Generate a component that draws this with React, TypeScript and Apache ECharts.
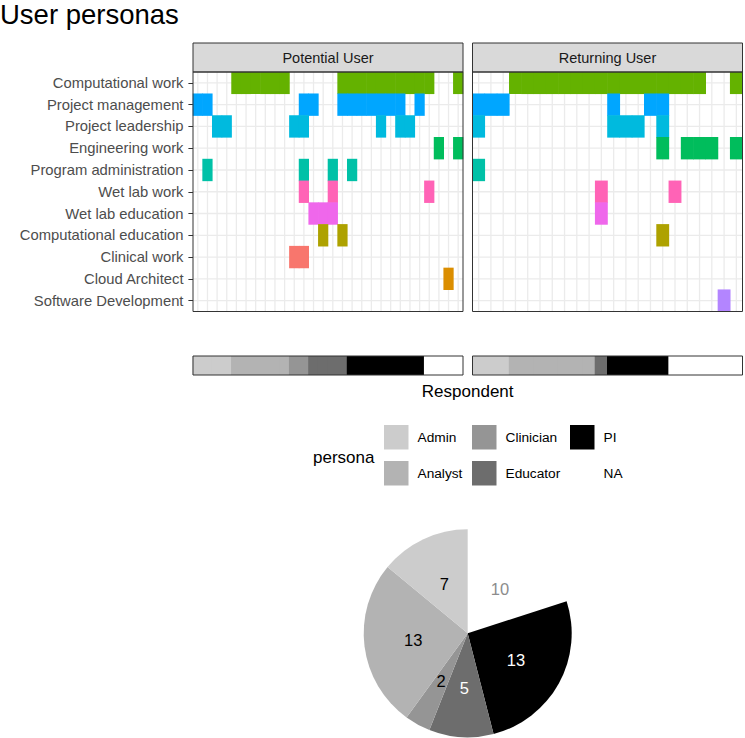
import React, { useEffect, useRef } from "react";
import * as echarts from "echarts";

const FONT = '"Liberation Sans", Arial, Helvetica, sans-serif';

// Role categories (top to bottom) and their hue colours
const roles = [
  "Computational work",
  "Project management",
  "Project leadership",
  "Engineering work",
  "Program administration",
  "Wet lab work",
  "Wet lab education",
  "Computational education",
  "Clinical work",
  "Cloud Architect",
  "Software Development",
];
const roleColors = [
  "#64B200", "#00A6FF", "#00BADE", "#00BD5C", "#00C1A7", "#FF63B6",
  "#EF67EB", "#AEA200", "#F8766D", "#DB8E00", "#B385FF",
];

// Persona of each respondent, in column order
const potentialPersona = [
  "Admin", "Admin", "Admin", "Admin",
  "Analyst", "Analyst", "Analyst", "Analyst", "Analyst", "Analyst",
  "Clinician", "Clinician",
  "Educator", "Educator", "Educator", "Educator",
  "PI", "PI", "PI", "PI", "PI", "PI", "PI", "PI",
  "NA", "NA", "NA", "NA",
];
const returningPersona = [
  "Admin", "Admin", "Admin",
  "Analyst", "Analyst", "Analyst", "Analyst", "Analyst", "Analyst", "Analyst",
  "Educator",
  "PI", "PI", "PI", "PI", "PI",
  "NA", "NA", "NA", "NA", "NA", "NA",
];

// [respondent column, role] tiles
const potentialTiles: [number, string][] = [
  [4, "Computational work"], [5, "Computational work"], [6, "Computational work"],
  [7, "Computational work"], [8, "Computational work"], [9, "Computational work"],
  [15, "Computational work"], [16, "Computational work"], [17, "Computational work"],
  [18, "Computational work"], [19, "Computational work"], [20, "Computational work"],
  [21, "Computational work"], [22, "Computational work"], [23, "Computational work"],
  [24, "Computational work"], [27, "Computational work"],
  [0, "Project management"], [1, "Project management"], [11, "Project management"],
  [12, "Project management"], [15, "Project management"], [16, "Project management"],
  [17, "Project management"], [18, "Project management"], [19, "Project management"],
  [20, "Project management"], [21, "Project management"], [23, "Project management"],
  [2, "Project leadership"], [3, "Project leadership"], [10, "Project leadership"],
  [11, "Project leadership"], [19, "Project leadership"], [21, "Project leadership"],
  [22, "Project leadership"],
  [25, "Engineering work"], [27, "Engineering work"],
  [1, "Program administration"], [11, "Program administration"],
  [14, "Program administration"], [16, "Program administration"],
  [11, "Wet lab work"], [14, "Wet lab work"], [24, "Wet lab work"],
  [12, "Wet lab education"], [13, "Wet lab education"], [14, "Wet lab education"],
  [13, "Computational education"], [15, "Computational education"],
  [10, "Clinical work"], [11, "Clinical work"],
  [26, "Cloud Architect"],
];
const returningTiles: [number, string][] = [
  [3, "Computational work"], [4, "Computational work"], [5, "Computational work"],
  [6, "Computational work"], [7, "Computational work"], [8, "Computational work"],
  [9, "Computational work"], [10, "Computational work"], [11, "Computational work"],
  [12, "Computational work"], [13, "Computational work"], [14, "Computational work"],
  [15, "Computational work"], [16, "Computational work"], [17, "Computational work"],
  [18, "Computational work"], [21, "Computational work"],
  [0, "Project management"], [1, "Project management"], [2, "Project management"],
  [11, "Project management"], [14, "Project management"], [15, "Project management"],
  [0, "Project leadership"], [11, "Project leadership"], [12, "Project leadership"],
  [13, "Project leadership"], [15, "Project leadership"],
  [15, "Engineering work"], [17, "Engineering work"], [18, "Engineering work"],
  [19, "Engineering work"], [21, "Engineering work"],
  [0, "Program administration"],
  [10, "Wet lab work"], [16, "Wet lab work"],
  [10, "Wet lab education"],
  [15, "Computational education"],
  [20, "Software Development"],
];

// Personas, grey fills and pie counts
const personas = ["Admin", "Analyst", "Clinician", "Educator", "PI", "NA"];
const personaColors = ["#CCCCCC", "#B3B3B3", "#959595", "#6D6D6D", "#000000", "#FFFFFF"];
const personaCounts = [7, 13, 2, 5, 13, 10];
const pieOrder = ["NA", "PI", "Educator", "Clinician", "Analyst", "Admin"];
const pieLabelColors: Record<string, string> = {
  NA: "#8C8C8C", PI: "#FFFFFF", Educator: "#FFFFFF", Clinician: "#000000",
  Analyst: "#000000", Admin: "#000000",
};

const PANELS = [
  { x: 193, label: "Potential User", persona: potentialPersona, tiles: potentialTiles },
  { x: 472.5, label: "Returning User", persona: returningPersona, tiles: returningTiles },
];
const PW = 270;
const PT = 72;
const PH = 239.5;
const BT = 356;
const BH = 19;

export default function App() {
  const ref = useRef<HTMLDivElement>(null);
  useEffect(() => {
    if (!ref.current) return;
    const chart = echarts.init(ref.current, undefined, { renderer: "svg" });

    const grids: any[] = [];
    const xAxes: any[] = [];
    const yAxes: any[] = [];
    const series: any[] = [];
    const graphic: any[] = [];

    PANELS.forEach((p, k) => {
      const ids = p.persona.map((_, i) => `${k}-${i}`);
      grids.push({ left: p.x, top: PT, width: PW, height: PH });
      grids.push({ left: p.x, top: BT, width: PW, height: BH });
      const gHeat = k * 2;
      const gBar = k * 2 + 1;
      const hidden = {
        axisLine: { show: false }, axisTick: { show: false },
        axisLabel: { show: false }, splitLine: { show: false },
      };
      xAxes.push({ type: "category", gridIndex: gHeat, data: ids, boundaryGap: true, ...hidden });
      xAxes.push({ type: "category", gridIndex: gBar, data: ids, boundaryGap: true, ...hidden });
      yAxes.push(
        k === 0
          ? {
              type: "category", gridIndex: gHeat, data: roles, inverse: true,
              axisLine: { show: false },
              axisTick: { show: true, alignWithLabel: true, length: 4.6, lineStyle: { color: "#333333", width: 1 } },
              axisLabel: { show: true, interval: 0, color: "#4D4D4D", fontSize: 14.8, margin: 9.5, fontFamily: FONT },
              splitLine: { show: false },
            }
          : { type: "category", gridIndex: gHeat, data: roles, inverse: true, ...hidden }
      );
      yAxes.push({ type: "category", gridIndex: gBar, data: ["persona"], ...hidden });
      const xHeat = xAxes.length - 2;
      const xBar = xAxes.length - 1;
      const yHeat = yAxes.length - 2;
      const yBar = yAxes.length - 1;

      // vertical grid lines at respondent centres
      series.push({
        type: "custom", xAxisIndex: xHeat, yAxisIndex: yHeat, z: 1, silent: true,
        data: p.persona.map((_, i) => [i, 0]),
        renderItem: (params: any, api: any) => {
          const pt = api.coord([api.value(0), 0]);
          const cs = params.coordSys;
          return {
            type: "line",
            shape: { x1: pt[0], y1: cs.y, x2: pt[0], y2: cs.y + cs.height },
            style: { stroke: "#EBEBEB", lineWidth: 1.3 },
          };
        },
      });
      // horizontal grid lines at role centres
      series.push({
        type: "custom", xAxisIndex: xHeat, yAxisIndex: yHeat, z: 1, silent: true,
        data: roles.map((_, j) => [0, j]),
        renderItem: (params: any, api: any) => {
          const pt = api.coord([0, api.value(1)]);
          const cs = params.coordSys;
          return {
            type: "line",
            shape: { x1: cs.x, y1: pt[1], x2: cs.x + cs.width, y2: pt[1] },
            style: { stroke: "#EBEBEB", lineWidth: 1.3 },
          };
        },
      });
      // tiles
      series.push({
        type: "custom", xAxisIndex: xHeat, yAxisIndex: yHeat, z: 2, silent: true,
        data: p.tiles.map(([c, r]) => [c, roles.indexOf(r)]),
        renderItem: (params: any, api: any) => {
          const pt = api.coord([api.value(0), api.value(1)]);
          const s = api.size([1, 1]);
          return {
            type: "rect",
            shape: { x: pt[0] - s[0] / 2 - 0.3, y: pt[1] - s[1] / 2 - 0.3, width: s[0] + 0.6, height: s[1] + 0.6 },
            style: { fill: roleColors[api.value(1)] },
          };
        },
      });
      // persona bar
      series.push({
        type: "custom", xAxisIndex: xBar, yAxisIndex: yBar, z: 2, silent: true,
        data: p.persona.map((ps, i) => [i, 0, personas.indexOf(ps)]),
        renderItem: (params: any, api: any) => {
          const pt = api.coord([api.value(0), 0]);
          const s = api.size([1, 1]);
          const col = personaColors[api.value(2)];
          return {
            type: "rect",
            shape: { x: pt[0] - s[0] / 2 - 0.5, y: pt[1] - s[1] / 2, width: s[0] + 1, height: s[1] },
            style: { fill: col },
          };
        },
      });

      // strip
      graphic.push({
        type: "rect", z: 50,
        shape: { x: p.x, y: 43, width: PW, height: PT - 43 },
        style: { fill: "#D9D9D9", stroke: "#333333", lineWidth: 1 },
      });
      graphic.push({
        type: "text", z: 51,
        style: {
          x: p.x + PW / 2, y: 57.5, text: p.label, fill: "#1A1A1A",
          font: `14.5px ${FONT}`, align: "center", verticalAlign: "middle",
        },
      });
      // panel borders
      graphic.push({
        type: "rect", z: 50,
        shape: { x: p.x, y: PT, width: PW, height: PH },
        style: { fill: "none", stroke: "#333333", lineWidth: 1 },
      });
      graphic.push({
        type: "rect", z: 50,
        shape: { x: p.x, y: BT, width: PW, height: BH },
        style: { fill: "none", stroke: "#333333", lineWidth: 1 },
      });
    });

    // title and axis title
    graphic.push({
      type: "text", z: 51,
      style: { x: 0, y: 14.2, text: "User personas", fill: "#000000", font: `27.5px ${FONT}`, align: "left", verticalAlign: "middle" },
    });
    graphic.push({
      type: "text", z: 51,
      style: { x: 467.7, y: 391, text: "Respondent", fill: "#000000", font: `17px ${FONT}`, align: "center", verticalAlign: "middle" },
    });

    // legend
    graphic.push({
      type: "text", z: 51,
      style: { x: 313, y: 457, text: "persona", fill: "#000000", font: `17px ${FONT}`, align: "left", verticalAlign: "middle" },
    });
    const keyX = [384, 384, 472, 472, 570, 570];
    const keyY = [425, 461, 425, 461, 425, 461];
    personas.forEach((ps, i) => {
      graphic.push({
        type: "rect", z: 51,
        shape: { x: keyX[i], y: keyY[i], width: 24.5, height: 24.5 },
        style: { fill: personaColors[i] },
      });
      graphic.push({
        type: "text", z: 51,
        style: {
          x: keyX[i] + 33.5, y: keyY[i] + 12.5, text: ps, fill: "#000000",
          font: `13.7px ${FONT}`, align: "left", verticalAlign: "middle",
        },
      });
    });

    // pie
    series.push({
      type: "pie", silent: true, center: [467.7, 633.3], radius: 104,
      startAngle: 90, clockwise: true, avoidLabelOverlap: false,
      label: { show: true, position: "inside", formatter: "{c}", fontSize: 16.5, fontFamily: FONT },
      labelLine: { show: false },
      emphasis: { disabled: true },
      itemStyle: { borderWidth: 0 },
      data: pieOrder.map((name) => {
        const i = personas.indexOf(name);
        return {
          name, value: personaCounts[i],
          itemStyle: { color: personaColors[i] },
          label: { color: pieLabelColors[name] },
        };
      }),
    });

    chart.setOption({
      animation: false,
      backgroundColor: "#FFFFFF",
      textStyle: { fontFamily: FONT },
      grid: grids,
      xAxis: xAxes,
      yAxis: yAxes,
      series,
      graphic,
    });
    return () => chart.dispose();
  }, []);
  return (
    <div
      ref={ref}
      style={{ position: "absolute", left: 0, top: 0, width: 745, height: 738 }}
    />
  );
}
